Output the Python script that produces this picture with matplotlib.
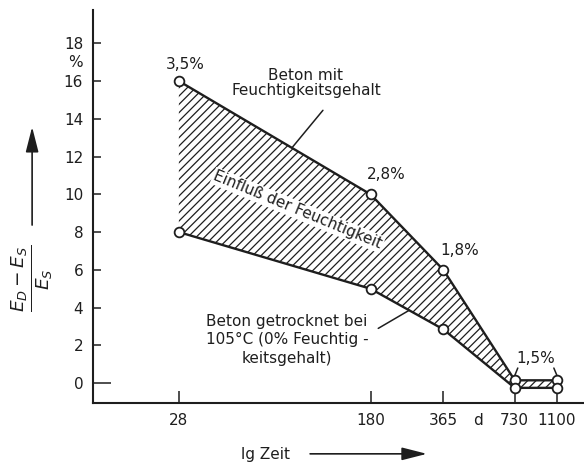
import numpy as np
import matplotlib.pyplot as plt
from matplotlib.patches import FancyArrowPatch

plt.rcParams['font.family'] = 'DejaVu Sans'
plt.rcParams['hatch.linewidth'] = 0.9
plt.rcParams['mathtext.fontset'] = 'dejavusans'

# Zeitpunkte in Tagen und relative Abweichung (E_D - E_S) / E_S in %
days = [28, 180, 365, 730, 1100]
feucht = [16.0, 10.0, 6.0, 0.15, 0.15]        # Beton mit Feuchtigkeitsgehalt
trocken = [8.0, 5.0, 2.85, -0.25, -0.25]      # Beton getrocknet bei 105 °C
moisture = ['3,5%', '2,8%', '1,8%', '1,5%']

yticks = [0, 2, 4, 6, 8, 10, 12, 14, 16, 18]
xticks = [28, 180, 365, 730, 1100]

ink = '#1e1e1e'

fig = plt.figure(figsize=(5.84, 4.65), dpi=100)
ax = fig.add_axes([0.159, 0.133, 0.841, 0.845])

# schraffierte Flaeche zwischen den beiden Kurven
ax.fill_between(days, trocken, feucht, facecolor='white', edgecolor=ink,
                hatch='////', linewidth=0)
for series in (feucht, trocken):
    ax.plot(days, series, color=ink, lw=1.7, marker='o', ms=7,
            mfc='white', mec=ink, mew=1.3, zorder=3)

ax.set_xscale('log')
ax.set_xlim(12.15, 1430)
ax.set_ylim(-1.06, 19.75)

ax.set_xticks(xticks)
ax.set_xticklabels([str(d) for d in xticks])
ax.xaxis.set_minor_locator(plt.NullLocator())
ax.set_yticks(yticks)
ax.set_yticklabels([str(v) for v in yticks])
ax.tick_params(axis='y', direction='in', length=6, width=1.1, pad=7,
               labelsize=11, colors=ink)
ax.tick_params(axis='x', direction='in', length=8.5, width=1.1, pad=7,
               labelsize=11, colors=ink)
ax.yaxis.get_major_ticks()[0].tick1line.set_markersize(13)

for side in ('top', 'right'):
    ax.spines[side].set_visible(False)
for side in ('left', 'bottom'):
    ax.spines[side].set_linewidth(1.5)
    ax.spines[side].set_color(ink)

# Einheiten an den Achsen
ax.annotate('%', xy=(0, 17), xycoords=ax.get_yaxis_transform(),
            xytext=(-7, 0), textcoords='offset points',
            ha='right', va='center', fontsize=11, color=ink)
ax.annotate('d', xy=(510, 0), xycoords=ax.get_xaxis_transform(),
            xytext=(0, -7), textcoords='offset points',
            ha='center', va='top', fontsize=11, color=ink)

leader = dict(arrowstyle='-', color=ink, lw=1.1, shrinkA=0, shrinkB=0)

# Feuchtigkeitsgehalte an der oberen Kurve
offsets = [(6, 17), (16, 20), (16, 19)]
for d, v, lab, off in zip(days[:3], feucht[:3], moisture[:3], offsets):
    ax.annotate(lab, xy=(d, v), xytext=off, textcoords='offset pixels',
                ha='center', va='center', fontsize=11, color=ink)
ax.text(893, 1.3, moisture[3], ha='center', va='center', fontsize=11, color=ink)
for d, v, dx in ((days[3], feucht[3], 8), (days[4], feucht[4], -8)):
    ax.annotate('', xy=(d, v + 0.25), xytext=(d * (1.03 if dx > 0 else 0.97), 0.8),
                arrowprops=leader)


def on_curve(x, series):
    return np.interp(np.log10(x), np.log10(days), series)


# Beschriftung der beiden Kurven
ax.text(96.2, 15.9, 'Beton mit\nFeuchtigkeitsgehalt', ha='center',
        va='center', fontsize=11, color=ink, linespacing=1.0)
ax.annotate('', xy=(83.9, on_curve(83.9, feucht)), xytext=(113.4, 14.45),
            arrowprops=leader)

ax.text(80, 2.3, 'Beton getrocknet bei\n105°C (0% Feuchtig -\nkeitsgehalt)',
        ha='center', va='center', fontsize=11, color=ink, linespacing=1.3)
ax.annotate('', xy=(262, on_curve(262, trocken)), xytext=(194, 2.9),
            arrowprops=leader)

ax.text(88.9, 9.16, 'Einfluß der Feuchtigkeit', rotation=-22.5,
        rotation_mode='anchor', ha='center', va='center', fontsize=11,
        color=ink, bbox=dict(facecolor='white', edgecolor='none', pad=1.0))

# Achsenbeschriftungen mit Pfeilen
fig.text(0.055, 0.402, r'$\frac{E_D - E_S}{E_S}$', rotation=90,
         ha='center', va='center', fontsize=19, color=ink)
fig.text(0.454, 0.022, 'lg Zeit', ha='center', va='center', fontsize=11,
         color=ink)
arrow = dict(arrowstyle='-|>,head_length=1.1,head_width=0.28', color=ink,
             lw=1.2, mutation_scale=14, shrinkA=0, shrinkB=0)
fig.add_artist(FancyArrowPatch((0.055, 0.516), (0.055, 0.727),
                               transform=fig.transFigure, **arrow))
fig.add_artist(FancyArrowPatch((0.531, 0.024), (0.731, 0.024),
                               transform=fig.transFigure, **arrow))

fig.savefig('out.png', dpi=100)
